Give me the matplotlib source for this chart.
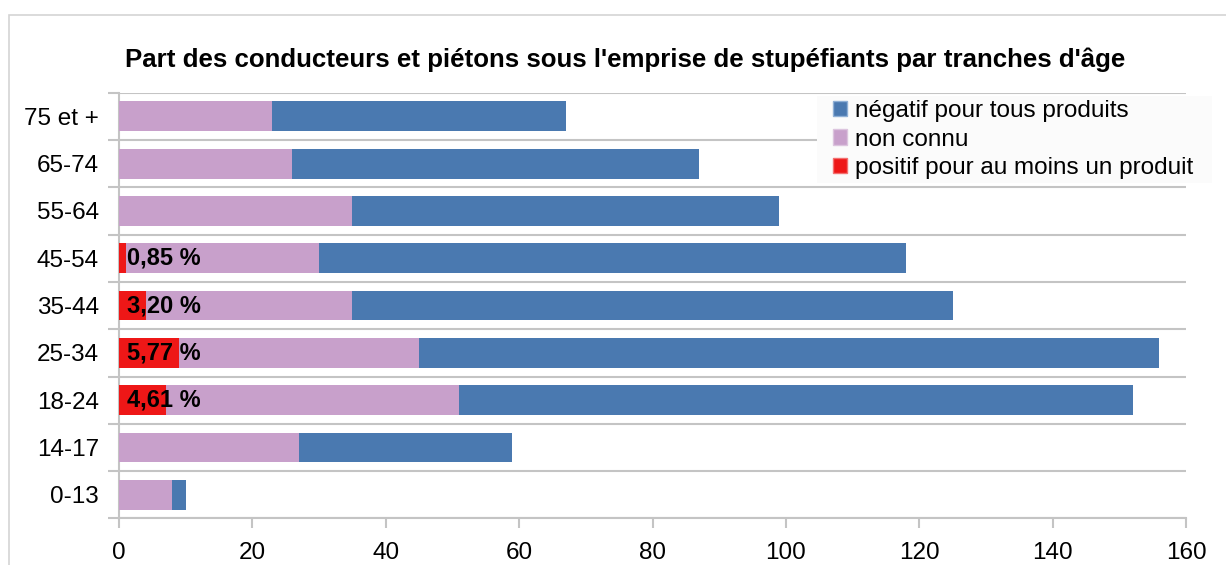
import matplotlib
matplotlib.use("Agg")
import matplotlib.pyplot as plt
from matplotlib.patches import Rectangle, Patch
import numpy as np

plt.rcParams['font.family'] = ['Liberation Sans', 'DejaVu Sans']

categories = ["75 et +", "65-74", "55-64", "45-54", "35-44", "25-34", "18-24", "14-17", "0-13"]
positif = [0, 0, 0, 1, 4, 9, 7, 0, 0]
non_connu = [23, 26, 35, 29, 31, 36, 44, 27, 8]
negatif = [44, 61, 64, 88, 90, 111, 101, 32, 2]
pct_labels = ["", "", "", "0,85 %", "3,20 %", "5,77 %", "4,61 %", "", ""]
title = "Part des conducteurs et piétons sous l'emprise de stupéfiants par tranches d'âge"
xticks = [0, 20, 40, 60, 80, 100, 120, 140, 160]

c_blue = "#4a79b0"
c_purple = "#c8a0cb"
c_red = "#ee1717"
c_grid = "#c4c4c4"

W, H = 1226, 565
fig = plt.figure(figsize=(W / 100, H / 100), dpi=100)
fig.patch.set_facecolor("white")

# outer chart border
fig.patches.append(Rectangle((9 / W, -0.1), 1.2, 1 - 15 / H + 0.1, transform=fig.transFigure,
                             fill=False, edgecolor="#d4d4d4", linewidth=1.2))

ax = fig.add_axes([119 / W, 1 - 518.4 / H, (1186 - 119) / W, (518.4 - 92.7) / H])

y = np.arange(len(categories))
pos = np.array(positif)
nc = np.array(non_connu)
ng = np.array(negatif)
h = 0.63
ax.barh(y, pos, height=h, color=c_red, zorder=3)
ax.barh(y, nc, left=pos, height=h, color=c_purple, zorder=3)
ax.barh(y, ng, left=pos + nc, height=h, color=c_blue, zorder=3)

for yi, lab in zip(y, pct_labels):
    if lab:
        ax.annotate(lab, (0, yi), xytext=(8 * 0.72, 0), textcoords="offset points",
                    ha="left", va="center", fontsize=17, fontweight="bold", zorder=5)

ax.set_ylim(len(categories) - 0.5, -0.5)
ax.set_xlim(0, 160)
ax.set_yticks(y)
ax.set_yticklabels(categories, fontsize=17.5)
ax.set_yticks(np.arange(-0.5, len(categories), 1), minor=True)
ax.set_xticks(xticks)
ax.set_xticklabels([str(v) for v in xticks], fontsize=17.5)
ax.tick_params(axis="y", which="major", length=0, pad=14.5)
ax.tick_params(axis="y", which="minor", length=8, color=c_grid, width=1.5, direction="out")
ax.tick_params(axis="x", which="major", length=7, color=c_grid, width=1.5, direction="out", pad=10)
ax.grid(axis="y", which="minor", color=c_grid, linewidth=1.5, zorder=1)
for s in ["top", "right"]:
    ax.spines[s].set_visible(False)
for s in ["left", "bottom"]:
    ax.spines[s].set_color(c_grid)
    ax.spines[s].set_linewidth(1.5)

# legend background
fig.patches.append(Rectangle((817 / W, 1 - 183 / H), (1212 - 817) / W, (183 - 96) / H,
                             transform=fig.transFigure, facecolor="#fbfbfb", edgecolor="none",
                             zorder=5))

handles = [Patch(facecolor=c_blue, edgecolor="#8fb0d6"),
           Patch(facecolor=c_purple, edgecolor="#dcc4de"),
           Patch(facecolor=c_red, edgecolor="#f37070")]
labels = ["négatif pour tous produits", "non connu", "positif pour au moins un produit"]
leg = fig.legend(handles, labels, loc="upper left", bbox_to_anchor=(833 / W, 1 - 100 / H),
                 bbox_transform=fig.transFigure, fontsize=17.5, frameon=False,
                 borderpad=0, labelspacing=0.27, handlelength=0.58, handleheight=0.58,
                 handletextpad=0.33, borderaxespad=0)
leg.set_zorder(10)

fig.text(625 / W, 1 - 67 / H, title, ha="center", va="baseline", fontsize=18.6, fontweight="bold")

fig.savefig("out.png", dpi=100)
